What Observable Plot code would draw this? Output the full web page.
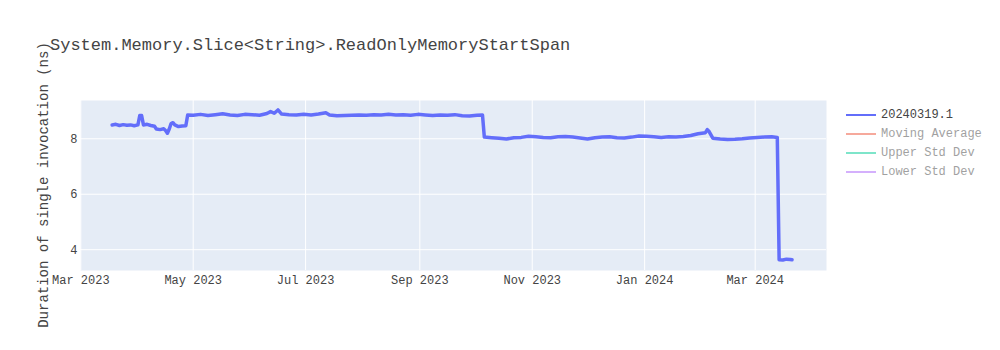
<!DOCTYPE html>
<html>
<head>
<meta charset="utf-8">
<script src="https://cdn.jsdelivr.net/npm/d3@7"></script>
<script src="https://cdn.jsdelivr.net/npm/@observablehq/plot@0.6"></script>
<style>
  html, body { margin: 0; padding: 0; background: white; }
  #chart { width: 1000px; height: 350px; }
</style>
</head>
<body>
<div id="chart"></div>
<script>
const chartTitle = "System.Memory.Slice<String>.ReadOnlyMemoryStartSpan";
const yTitle = "Duration of single invocation (ns)";
const legendNames = ["20240319.1", "Moving Average", "Upper Std Dev", "Lower Std Dev"];
const legendColors = ["#636efa", "#EF553B", "#00cc96", "#ab63fa"];
const legendVisible = [true, false, false, false];
const yTicks = [4, 6, 8];

const dates = [
  "2023-03-18","2023-03-20","2023-03-22","2023-03-24","2023-03-26","2023-03-28","2023-03-30","2023-04-01",
  "2023-04-02","2023-04-03","2023-04-04","2023-04-06","2023-04-08","2023-04-10","2023-04-11","2023-04-13",
  "2023-04-15","2023-04-16","2023-04-17","2023-04-18","2023-04-19","2023-04-20","2023-04-21","2023-04-23",
  "2023-04-25","2023-04-27","2023-04-28",
  "2023-05-01","2023-05-05","2023-05-09","2023-05-13","2023-05-17","2023-05-21","2023-05-25","2023-05-29",
  "2023-06-02","2023-06-06","2023-06-10","2023-06-12","2023-06-14","2023-06-16","2023-06-18","2023-06-22",
  "2023-06-26","2023-06-30","2023-07-04","2023-07-08","2023-07-12","2023-07-14","2023-07-18","2023-07-22",
  "2023-07-26","2023-07-30","2023-08-03","2023-08-07","2023-08-11","2023-08-15","2023-08-19","2023-08-23",
  "2023-08-27","2023-08-31","2023-09-04","2023-09-08","2023-09-12","2023-09-16","2023-09-20","2023-09-24",
  "2023-09-28","2023-10-02","2023-10-05","2023-10-06","2023-10-10","2023-10-14","2023-10-18","2023-10-22",
  "2023-10-26","2023-10-30","2023-11-03","2023-11-07","2023-11-11","2023-11-15","2023-11-19","2023-11-23",
  "2023-11-27","2023-12-01","2023-12-05","2023-12-09","2023-12-13","2023-12-17","2023-12-21","2023-12-25",
  "2023-12-29","2024-01-02","2024-01-06","2024-01-10","2024-01-14","2024-01-18","2024-01-22","2024-01-26",
  "2024-01-30","2024-02-03","2024-02-04","2024-02-05","2024-02-07","2024-02-11","2024-02-15","2024-02-19",
  "2024-02-23","2024-02-27","2024-03-02","2024-03-06","2024-03-10","2024-03-13","2024-03-14","2024-03-16",
  "2024-03-18","2024-03-20","2024-03-21"
];
const values = [
  8.50,8.52,8.48,8.51,8.49,8.50,8.47,8.50,
  8.84,8.84,8.50,8.52,8.48,8.45,8.35,8.33,
  8.36,8.30,8.20,8.35,8.55,8.58,8.50,8.44,
  8.46,8.47,8.86,
  8.85,8.88,8.84,8.87,8.90,8.86,8.84,8.88,
  8.87,8.85,8.91,8.98,8.92,9.04,8.89,8.87,
  8.86,8.88,8.86,8.89,8.94,8.86,8.83,8.84,
  8.85,8.86,8.85,8.87,8.86,8.88,8.86,8.87,
  8.85,8.88,8.86,8.84,8.86,8.85,8.87,8.83,
  8.82,8.85,8.86,8.06,8.04,8.02,7.99,8.04,
  8.05,8.09,8.07,8.05,8.04,8.07,8.08,8.06,
  8.03,7.99,8.04,8.06,8.07,8.04,8.03,8.06,
  8.10,8.09,8.07,8.05,8.07,8.06,8.08,8.12,
  8.18,8.22,8.33,8.26,8.02,7.99,7.97,7.98,
  8.00,8.03,8.05,8.06,8.07,8.05,3.64,3.63,
  3.66,3.65,3.64
];

const data = dates.map((d, i) => ({date: new Date(d + "T00:00:00Z"), value: values[i]}));
const font = "'Courier New', 'Liberation Mono', monospace";

const svg = Plot.plot({
  width: 1000,
  height: 350,
  marginLeft: 80,
  marginRight: 174,
  marginTop: 100,
  marginBottom: 80,
  style: {fontFamily: font, fontSize: "12px", color: "#444", background: "white"},
  x: {type: "utc", domain: [new Date("2023-02-28T20:00:00Z"), new Date("2024-04-08T17:00:00Z")]},
  y: {domain: [3.25, 9.38]},
  marks: [
    Plot.frame({fill: "#E5ECF6", stroke: null}),
    Plot.gridX({ticks: d3.utcMonth.every(2), stroke: "white", strokeOpacity: 1, strokeWidth: 1}),
    Plot.gridY({ticks: yTicks, stroke: "white", strokeOpacity: 1, strokeWidth: 1}),
    Plot.axisX({ticks: d3.utcMonth.every(2), tickFormat: d3.utcFormat("%b %Y"), tickSize: 0, tickPadding: 5, label: null}),
    Plot.axisY({ticks: yTicks, tickFormat: d => String(d), tickSize: 0, tickPadding: 3, label: null}),
    Plot.line(data, {x: "date", y: "value", stroke: legendColors[0], strokeWidth: 3.5, strokeLinejoin: "round", strokeLinecap: "round"})
  ]
});

const s = d3.select(svg);
s.append("text")
  .attr("x", 50).attr("y", 50).attr("text-anchor", "start")
  .attr("font-family", font).attr("font-size", 17).attr("fill", "#444")
  .text(chartTitle);
s.append("text")
  .attr("transform", "translate(44,185) rotate(-90)")
  .attr("text-anchor", "middle").attr("dominant-baseline", "central")
  .attr("font-family", font).attr("font-size", 14).attr("fill", "#444")
  .text(yTitle);
const lg = s.append("g").attr("text-anchor", "start");
legendNames.forEach((name, i) => {
  const y = 115 + i * 19;
  const g = lg.append("g").attr("opacity", legendVisible[i] ? 1 : 0.5);
  g.append("line").attr("x1", 846).attr("x2", 876).attr("y1", y).attr("y2", y)
    .attr("stroke", legendColors[i]).attr("stroke-width", 2);
  g.append("text").attr("x", 881).attr("y", y).attr("dominant-baseline", "central")
    .attr("text-anchor", "start")
    .attr("font-family", font).attr("font-size", 12).attr("fill", "#444").text(name);
});
document.getElementById("chart").appendChild(svg);
</script>
</body>
</html>
